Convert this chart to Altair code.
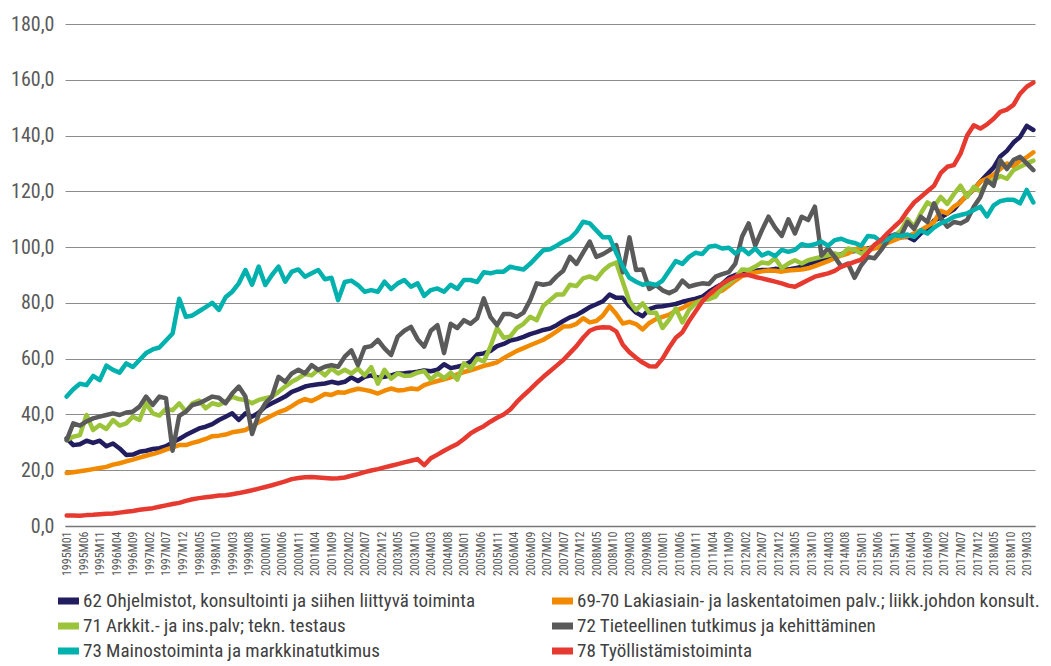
import altair as alt
import pandas as pd

# Month categories 1995M01 .. 2019M05
months = [f"{1995 + k // 12}M{k % 12 + 1:02d}" for k in range(293)]
sample_months = months[::2]          # values read every second month
tick_months = months[::5]            # axis labels every fifth month

series_names = [
    "62 Ohjelmistot, konsultointi ja siihen liittyvä toiminta",
    "69-70 Lakiasiain- ja laskentatoimen palv.; liikk.johdon konsult.",
    "71 Arkkit.- ja ins.palv; tekn. testaus",
    "72 Tieteellinen tutkimus ja kehittäminen",
    "73 Mainostoiminta ja markkinatutkimus",
    "78 Työllistämistoiminta",
]
series_colors = ["#211d5e", "#f28a00", "#9cc43b", "#5a5a5a", "#00b1ae", "#e63a30"]

s62 = [
    31.4, 29.0, 29.3, 30.6, 29.8, 30.6, 28.6, 29.6, 27.8, 25.5,
    25.6, 26.6, 27.0, 27.6, 27.9, 28.6, 30.0, 31.2, 32.6, 33.8,
    35.0, 35.6, 36.5, 38.0, 39.2, 40.4, 38.0, 40.4, 39.2, 40.6,
    42.8, 44.0, 45.2, 46.4, 48.1, 49.0, 50.0, 50.5, 50.8, 51.1,
    51.7, 51.2, 51.7, 53.3, 52.0, 53.5, 54.0, 53.2, 53.5, 54.0,
    54.7, 54.8, 55.0, 55.3, 55.8, 55.5, 56.0, 58.0, 56.6, 57.1,
    57.7, 58.9, 61.5, 61.9, 62.8, 64.5, 65.3, 66.5, 67.0, 67.8,
    68.8, 69.5, 70.3, 70.8, 72.0, 73.5, 74.8, 75.6, 77.0, 78.5,
    79.5, 80.6, 83.0, 81.8, 81.8, 78.8, 76.5, 75.2, 77.8, 78.6,
    78.8, 79.2, 79.6, 80.4, 81.0, 81.5, 82.2, 84.0, 85.5, 86.8,
    89.0, 90.0, 90.6, 91.2, 91.5, 91.8, 91.8, 92.2, 92.0, 92.0,
    92.4, 93.0, 94.0, 94.6, 95.3, 96.0, 96.5, 97.5, 98.3, 98.6,
    98.9, 99.5, 100.1, 102.0, 103.7, 104.3, 103.5, 103.7, 102.5, 104.9,
    106.5, 109.5, 110.6, 112.0, 113.5, 116.3, 118.5, 120.7, 123.5, 126.0,
    128.5, 132.5, 134.5, 137.5, 139.5, 143.5, 142.0,
]
s6970 = [
    19.0, 19.3, 19.6, 20.0, 20.4, 20.8, 21.2, 22.0, 22.5, 23.2,
    23.8, 24.5, 25.2, 25.8, 26.5, 27.4, 28.2, 29.0, 29.0, 29.8,
    30.4, 31.2, 32.2, 32.4, 32.8, 33.6, 34.0, 34.4, 35.8, 37.2,
    38.4, 39.6, 40.8, 41.6, 43.0, 44.5, 45.5, 44.8, 46.0, 47.3,
    47.0, 48.0, 47.8, 48.6, 49.2, 48.8, 48.3, 47.5, 48.5, 49.3,
    48.6, 48.8, 49.3, 49.0, 50.5, 51.3, 52.0, 52.6, 53.3, 54.4,
    55.2, 55.8, 56.6, 57.4, 58.0, 58.7, 60.2, 61.5, 62.8, 63.8,
    64.8, 65.8, 66.8, 68.2, 69.8, 71.5, 71.6, 72.5, 74.5, 73.0,
    73.5, 75.5, 78.8, 76.0, 72.6, 73.2, 72.4, 70.5, 72.8, 74.2,
    75.0, 75.8, 77.2, 78.2, 79.5, 80.2, 81.0, 82.2, 83.5, 84.4,
    86.2, 88.0, 89.6, 90.4, 90.9, 91.3, 91.6, 91.5, 91.2, 91.6,
    91.8, 92.0, 92.4, 93.2, 94.1, 95.0, 96.0, 97.0, 97.7, 99.0,
    100.1, 98.9, 99.5, 100.1, 101.5, 102.5, 103.5, 103.9, 104.9, 106.1,
    107.5, 109.0, 113.0, 112.1, 114.5, 116.0, 119.0, 120.5, 123.5, 124.6,
    126.0, 128.0, 130.0, 129.0, 131.0, 132.2, 134.0,
]
s71 = [
    30.8, 32.0, 32.6, 39.8, 34.4, 36.2, 34.8, 38.0, 36.0, 36.8,
    39.2, 38.0, 44.0, 40.4, 39.6, 42.0, 41.5, 44.0, 41.0, 44.0,
    45.0, 42.2, 44.0, 43.4, 44.6, 46.4, 45.5, 45.2, 44.0, 45.2,
    45.8, 46.4, 48.1, 50.0, 51.7, 53.0, 54.5, 54.0, 56.0, 54.0,
    56.5, 54.7, 56.0, 54.7, 56.5, 54.0, 57.0, 51.0, 56.0, 52.8,
    54.7, 53.8, 54.0, 55.0, 55.5, 52.5, 54.7, 53.0, 55.0, 52.5,
    58.3, 56.5, 60.0, 59.0, 64.3, 71.0, 67.5, 68.0, 71.0, 72.5,
    75.0, 73.8, 79.0, 81.0, 83.0, 83.0, 86.5, 86.0, 88.8, 89.5,
    88.5, 91.5, 93.5, 94.5, 87.5, 80.5, 77.4, 79.8, 76.5, 76.5,
    71.0, 74.0, 78.0, 73.0, 77.5, 79.8, 81.0, 81.3, 82.2, 85.5,
    87.0, 89.0, 92.0, 91.8, 93.0, 94.5, 94.1, 96.0, 92.5, 94.1,
    95.3, 94.1, 95.3, 95.9, 96.5, 97.1, 97.7, 97.1, 99.5, 99.0,
    97.7, 99.0, 100.6, 101.9, 103.0, 104.0, 106.0, 110.0, 107.3, 112.1,
    116.0, 114.5, 118.0, 115.5, 119.0, 122.0, 118.0, 121.6, 120.0, 123.0,
    124.0, 125.5, 124.5, 127.6, 128.8, 130.0, 131.0,
]
s72 = [
    30.8, 36.8, 36.0, 37.5, 38.6, 39.2, 39.8, 40.4, 39.8, 40.7,
    41.0, 42.8, 46.4, 43.4, 46.4, 45.8, 27.0, 39.5, 41.0, 43.4,
    44.0, 45.2, 46.4, 46.0, 44.0, 47.5, 50.0, 46.4, 33.0, 40.0,
    44.0, 46.4, 53.5, 51.7, 54.7, 56.0, 54.7, 57.7, 56.0, 57.1,
    57.7, 57.1, 60.7, 63.0, 57.7, 64.0, 64.5, 66.7, 63.7, 61.3,
    67.9, 70.0, 71.4, 67.0, 64.3, 70.0, 72.0, 62.0, 72.5, 71.0,
    73.8, 72.5, 74.5, 81.6, 75.0, 72.0, 76.0, 76.0, 75.0, 76.5,
    81.0, 87.0, 86.5, 87.0, 89.5, 91.5, 96.5, 94.0, 98.0, 102.0,
    96.5, 97.5, 98.9, 100.7, 91.0, 103.5, 91.8, 92.0, 85.0, 86.4,
    84.5, 83.5, 84.6, 88.0, 85.8, 86.5, 87.0, 86.8, 89.4, 90.3,
    91.0, 94.1, 103.7, 108.5, 100.5, 106.0, 110.9, 107.0, 104.0, 110.0,
    104.9, 110.9, 109.7, 114.5, 97.0, 99.5, 96.5, 93.0, 94.1, 89.0,
    93.5, 96.5, 96.0, 98.9, 102.5, 104.5, 104.0, 109.0, 106.5, 110.9,
    109.0, 115.7, 110.5, 107.3, 109.0, 108.5, 109.7, 114.5, 118.0, 124.0,
    122.0, 131.2, 128.0, 131.2, 132.4, 130.0, 127.6,
]
s73 = [
    46.4, 49.0, 51.0, 50.5, 53.8, 52.3, 57.5, 56.0, 55.0, 58.3,
    57.0, 59.5, 62.0, 63.3, 64.0, 66.5, 69.0, 81.5, 75.0, 75.5,
    77.0, 78.5, 80.0, 77.5, 82.0, 84.0, 87.0, 91.8, 86.5, 93.0,
    86.4, 90.0, 93.0, 87.6, 91.2, 92.0, 89.4, 90.6, 91.8, 88.5,
    89.0, 81.0, 87.5, 88.0, 86.4, 84.0, 84.6, 84.0, 87.6, 85.0,
    87.0, 88.2, 85.8, 87.0, 82.5, 84.6, 85.2, 84.0, 86.5, 85.0,
    88.2, 88.2, 87.5, 91.0, 90.6, 91.2, 91.2, 93.0, 92.4, 92.0,
    94.0, 96.5, 98.9, 99.2, 100.5, 102.0, 103.1, 105.5, 109.1, 108.5,
    106.0, 103.5, 103.5, 98.0, 93.0, 89.0, 87.6, 86.5, 87.0, 86.4,
    88.0, 91.5, 95.0, 94.0, 96.5, 98.0, 97.5, 100.1, 100.5, 99.5,
    99.8, 97.7, 99.5, 97.5, 99.5, 97.0, 98.0, 96.8, 99.0, 98.3,
    99.0, 101.0, 100.5, 101.0, 102.0, 100.5, 102.5, 103.0, 102.0, 101.5,
    100.5, 104.0, 103.7, 102.0, 102.8, 104.3, 104.0, 104.5, 103.7, 106.0,
    104.9, 107.0, 108.5, 109.5, 110.9, 111.5, 112.1, 113.3, 114.5, 111.0,
    115.0, 116.5, 117.0, 117.0, 115.7, 120.5, 116.0,
]
s78 = [
    3.8, 3.8, 3.7, 3.9, 4.0, 4.2, 4.4, 4.5, 4.8, 5.1,
    5.4, 5.8, 6.1, 6.4, 6.9, 7.4, 7.9, 8.3, 9.0, 9.6,
    10.0, 10.3, 10.6, 10.9, 11.0, 11.4, 11.8, 12.3, 12.8, 13.4,
    14.0, 14.6, 15.3, 16.0, 16.8, 17.2, 17.5, 17.6, 17.4, 17.2,
    17.0, 17.1, 17.4, 18.0, 18.6, 19.3, 19.9, 20.4, 21.0, 21.6,
    22.2, 22.8, 23.4, 24.0, 21.8, 24.3, 25.6, 27.0, 28.2, 29.4,
    31.2, 33.2, 34.6, 35.8, 37.4, 38.8, 40.0, 41.8, 44.5, 46.8,
    49.0, 51.3, 53.5, 55.5, 57.5, 59.5, 62.0, 64.5, 67.5, 70.0,
    71.0, 71.3, 71.2, 69.8, 65.0, 62.3, 60.3, 58.6, 57.3, 57.2,
    60.0, 64.0, 67.5, 69.5, 73.5, 77.0, 80.5, 83.0, 85.0, 86.8,
    88.3, 89.4, 90.0, 90.0, 89.3, 88.8, 88.2, 87.6, 87.0, 86.2,
    85.8, 87.0, 88.2, 89.4, 90.0, 90.6, 91.5, 93.0, 93.8, 94.7,
    95.5, 98.0, 100.8, 102.5, 105.0, 107.3, 109.5, 113.0, 116.0, 118.0,
    120.0, 122.0, 126.5, 128.8, 129.4, 133.5, 140.0, 143.7, 142.5, 144.0,
    146.0, 148.5, 149.3, 151.0, 155.0, 157.5, 159.0,
]

rows = []
for name, vals in zip(series_names, [s62, s6970, s71, s72, s73, s78]):
    for m, v in zip(sample_months, vals):
        rows.append({"kuukausi": m, "sarja": name, "arvo": v})
df = pd.DataFrame(rows)

narrow = "Liberation Sans Narrow, Roboto Condensed, DejaVu Sans Condensed, sans-serif"

chart = (
    alt.Chart(df)
    .mark_line(strokeWidth=4.5, strokeJoin="round", strokeCap="round")
    .encode(
        x=alt.X(
            "kuukausi:O",
            sort=months,
            scale=alt.Scale(type="point", domain=months, padding=0.5),
            axis=alt.Axis(
                values=tick_months,
                title=None,
                labelAngle=-90,
                labelFont=narrow,
                labelFontSize=12,
                labelColor="#5a5a5a",
                labelPadding=5,
                ticks=False,
                grid=False,
                domainColor="#777777",
                domainWidth=1.5,
            ),
        ),
        y=alt.Y(
            "arvo:Q",
            scale=alt.Scale(domain=[0, 180], nice=False),
            axis=alt.Axis(
                values=list(range(0, 181, 20)),
                title=None,
                labelExpr="replace(format(datum.value, '.1f'), '.', ',')",
                labelFont=narrow,
                labelFontSize=20,
                labelColor="#595959",
                labelPadding=11,
                domain=False,
                ticks=False,
                grid=True,
                gridColor="#8c8c8c",
                gridWidth=1,
            ),
        ),
        color=alt.Color(
            "sarja:N",
            sort=series_names,
            scale=alt.Scale(domain=series_names, range=series_colors),
            legend=alt.Legend(
                title=None,
                orient="none",
                direction="horizontal",
                legendX=-7.5,
                legendY=565,
                columns=2,
                columnPadding=76,
                rowPadding=1,
                clipHeight=24,
                symbolType="M-1.4,0L1.4,0",
                symbolSize=225,
                symbolStrokeWidth=7,
                labelFont=narrow,
                labelFontSize=19,
                labelColor="#404040",
                labelLimit=700,
                labelOffset=3.5,
            ),
        ),
    )
    .properties(
        width=970,
        height=502,
        autosize=alt.AutoSizeParams(type="none"),
        padding={"left": 57, "top": 16, "right": 8, "bottom": 142},
    )
    .configure_view(stroke=None)
)

chart.save("out.html", embed_options={"renderer": "svg", "actions": False})
